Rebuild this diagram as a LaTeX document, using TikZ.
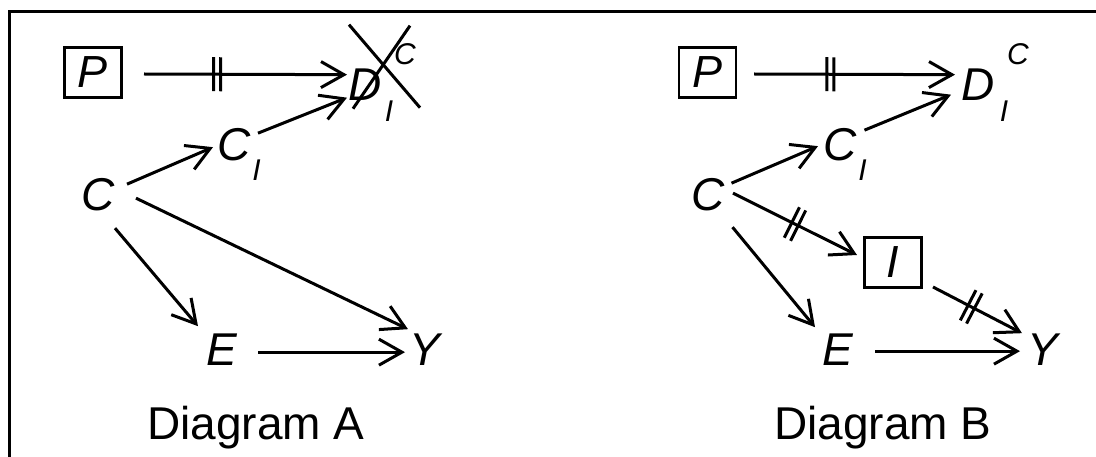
\documentclass[tikz,border=0pt]{standalone}
\usepackage{fontspec}
\setmainfont{Liberation Sans}
\usetikzlibrary{arrows.meta,decorations.markings,calc}
\begin{document}
\begin{tikzpicture}[x=1pt,y=-1pt,
  var/.style={font=\fontsize{46}{46}\selectfont\itshape, inner sep=0pt, anchor=base},
  idx/.style={font=\fontsize{30}{30}\selectfont\itshape, inner sep=0pt, anchor=base},
  boxed/.style={draw, line width=2.7pt, minimum width=57pt, minimum height=50pt, inner sep=0pt, font=\fontsize{45}{45}\selectfont\itshape},
  lbl/.style={font=\fontsize{46}{46}\selectfont, inner sep=0pt, anchor=base},
  arr/.style={line width=3pt, -{Straight Barb[length=23pt,width=26pt]}},
  cut/.style={postaction={decorate,decoration={markings,mark=at position #1 with {\draw[line width=3pt,-] (-3.5,-17)--(-3.5,17) (3.5,-17)--(3.5,17);}}}},
  crossline/.style={line width=3pt},
  frame/.style={line width=3pt}
]
\useasboundingbox (0,0) rectangle (1096,457);
% frame
\draw[frame] (1100,11.5) -- (9.8,11.5) -- (9.8,460);

% ---------- Diagram A ----------
\node[boxed] (PA) at (93,72.5) {P};
\node[var] (DA) at (365,101) {D};
\node[idx] (DAsub) at (389,122) {I};
\node[idx] (DAsup) at (405,65) {C};
\node[var] (CIA) at (234,161) {C};
\node[idx] (CIAsub) at (256.5,181) {I};
\node[var] (CA) at (98,211) {C};
\node[var] (EA) at (222,365) {E};
\node[var] (YA) at (425,365) {Y};
\node[lbl] (labA) at (256,439) {Diagram A};

\draw[arr,cut=0.36] ([shift={(51,1.5)}]PA.center) -- ([shift={(-18,-10.5)}]DA.center);
\draw[arr] ([shift={(29,-11)}]CA.center) -- ([shift={(-21,2)}]CIA.center);
\draw[arr] ([shift={(24,-12)}]CIA.center) -- ([shift={(-18,12.5)}]DA.center);
\draw[arr] ([shift={(38,3)}]CA.center) -- ([shift={(-17,-20)}]YA.center);
\draw[arr] ([shift={(17,33)}]CA.center) -- ([shift={(-24,-23)}]EA.center);
\draw[arr] ([shift={(36,3)}]EA.center) -- ([shift={(-20,3)}]YA.center);
% cross over D
\draw[crossline] ([shift={(-16,-60.5)}]DA.center) -- ([shift={(55,22.5)}]DA.center);
\draw[crossline] ([shift={(45,-59.5)}]DA.center) -- ([shift={(-12,23.5)}]DA.center);

% ---------- Diagram B ----------
\node[boxed] (PB) at (707.5,72.5) {P};
\node[var] (DB) at (978.5,101) {D};
\node[idx] (DBsub) at (1004,122) {I};
\node[idx] (DBsup) at (1018,65) {C};
\node[var] (CIB) at (840,161) {C};
\node[idx] (CIBsub) at (862.5,181) {I};
\node[var] (CB) at (708,211) {C};
\node[boxed] (IB) at (893,262.5) {I};
\node[var] (EB) at (837.5,365) {E};
\node[var] (YB) at (1043,365) {Y};
\node[lbl] (labB) at (883,439) {Diagram B};

\draw[arr,cut=0.38] ([shift={(46.5,1.5)}]PB.center) -- ([shift={(-23.5,-10.5)}]DB.center);
\draw[arr] ([shift={(23.5,-12)}]CB.center) -- ([shift={(-22,1)}]CIB.center);
\draw[arr] ([shift={(24.5,-15)}]CIB.center) -- ([shift={(-27.5,9.5)}]DB.center);
\draw[arr,cut=0.5] ([shift={(25,-2)}]CB.center) -- ([shift={(-36,-7.5)}]IB.center);
\draw[arr,cut=0.43] ([shift={(40,24.5)}]IB.center) -- ([shift={(-21,-16)}]YB.center);
\draw[arr] ([shift={(24.5,32)}]CB.center) -- ([shift={(-22.5,-22)}]EB.center);
\draw[arr] ([shift={(37.5,2)}]EB.center) -- ([shift={(-23,2)}]YB.center);
\end{tikzpicture}
\end{document}
